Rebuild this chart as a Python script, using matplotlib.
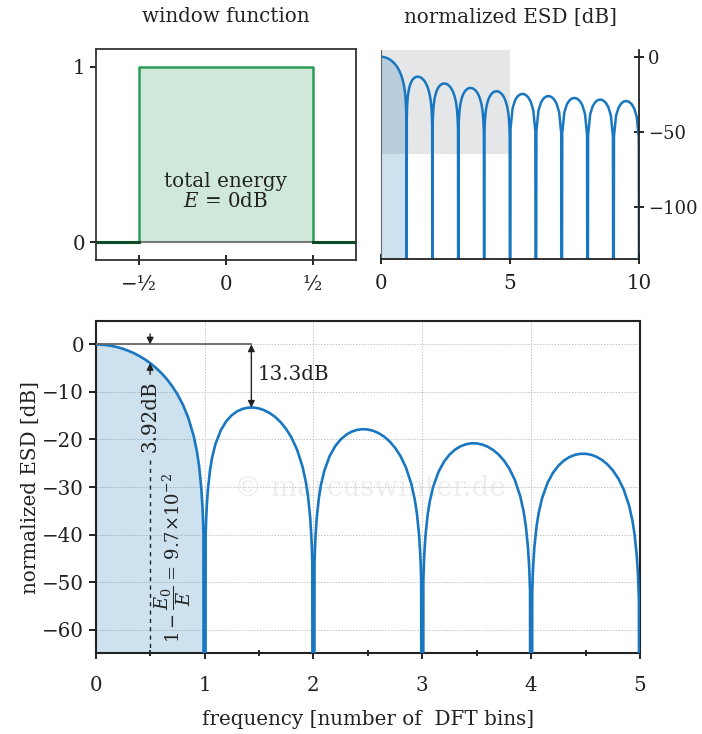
import numpy as np
import matplotlib
matplotlib.use("Agg")
import matplotlib.pyplot as plt
from matplotlib.ticker import MultipleLocator, FixedLocator

plt.rcParams['font.family'] = ['DejaVu Serif']
plt.rcParams['mathtext.fontset'] = 'dejavuserif'
plt.rcParams['axes.unicode_minus'] = True

# rectangular window, time axis in units of the window length
window_t = [-0.75, -0.5, -0.5, 0.5, 0.5, 0.75]
window_w = [0, 0, 1, 1, 0, 0]

# normalized energy spectral density [dB], 0 ... 5 bins
# (nulls are stored as -300 so the line runs off the bottom of the axes)
esd_freq_near = [
    0.00, 0.05, 0.10, 0.15, 0.20, 0.25, 0.30, 0.35, 0.40, 0.45, 0.50, 0.55, 0.60, 0.65,
    0.70, 0.75, 0.80, 0.85, 0.90, 0.93, 0.95, 0.97, 0.98, 0.985, 0.99, 1.00,
    1.01, 1.015, 1.02, 1.03, 1.05, 1.07, 1.10, 1.15, 1.20, 1.25, 1.30, 1.35, 1.40, 1.45,
    1.50, 1.55, 1.60, 1.65, 1.70, 1.75, 1.80, 1.85, 1.90, 1.93, 1.95, 1.97, 1.98, 1.985,
    1.99, 2.00,
    2.01, 2.015, 2.02, 2.03, 2.05, 2.07, 2.10, 2.15, 2.20, 2.25, 2.30, 2.35, 2.40, 2.45,
    2.50, 2.55, 2.60, 2.65, 2.70, 2.75, 2.80, 2.85, 2.90, 2.93, 2.95, 2.97, 2.98, 2.985,
    2.99, 3.00,
    3.01, 3.015, 3.02, 3.03, 3.05, 3.07, 3.10, 3.15, 3.20, 3.25, 3.30, 3.35, 3.40, 3.45,
    3.50, 3.55, 3.60, 3.65, 3.70, 3.75, 3.80, 3.85, 3.90, 3.93, 3.95, 3.97, 3.98, 3.985,
    3.99, 4.00,
    4.01, 4.015, 4.02, 4.03, 4.05, 4.07, 4.10, 4.15, 4.20, 4.25, 4.30, 4.35, 4.40, 4.45,
    4.50, 4.55, 4.60, 4.65, 4.70, 4.75, 4.80, 4.85, 4.90, 4.93, 4.95, 4.97, 4.98, 4.985,
    4.99, 5.00,
]
esd_db_near = [
    0.00, -0.04, -0.14, -0.32, -0.58, -0.91, -1.33, -1.83, -2.42, -3.12, -3.92, -4.86, -5.94, -7.20,
    -8.69, -10.45, -12.62, -15.39, -19.23, -22.54, -25.61, -30.21, -33.81, -36.35, -39.91, -300,
    -40.09, -36.61, -34.16, -30.73, -26.48, -23.76, -20.97, -18.02, -16.14, -14.89, -14.06, -13.55, -13.30, -13.28,
    -13.46, -13.86, -14.46, -15.29, -16.39, -17.81, -19.66, -22.15, -25.72, -28.88, -31.86, -36.36, -39.92, -42.44,
    -45.98, -300,
    -46.07, -42.57, -40.09, -36.62, -32.29, -29.49, -26.59, -23.45, -21.41, -20.00, -19.02, -18.37, -17.98, -17.83,
    -17.90, -18.18, -18.68, -19.41, -20.41, -21.74, -23.50, -25.90, -29.39, -32.51, -35.45, -39.93, -43.47, -45.98,
    -49.51, -300,
    -49.57, -46.07, -43.58, -40.10, -35.74, -32.91, -29.97, -26.77, -24.66, -23.19, -22.15, -21.45, -21.01, -20.81,
    -20.82, -21.06, -21.51, -22.19, -23.15, -24.43, -26.15, -28.51, -31.96, -35.06, -37.99, -42.45, -45.98, -48.49,
    -52.02, -300,
    -52.06, -48.56, -46.07, -42.58, -38.21, -35.36, -32.40, -29.16, -27.02, -25.52, -24.45, -23.71, -23.25, -23.02,
    -23.01, -23.21, -23.63, -24.29, -25.23, -26.49, -28.18, -30.52, -33.95, -37.03, -39.95, -44.40, -47.93, -50.44,
    -53.96, -300,
]

# 5 ... 10 bins for the overview plot
esd_freq_far = [
    5.02, 5.10, 5.20, 5.30, 5.40, 5.50, 5.60, 5.70, 5.80, 5.90, 5.98, 6.00,
    6.02, 6.10, 6.20, 6.30, 6.40, 6.50, 6.60, 6.70, 6.80, 6.90, 6.98, 7.00,
    7.02, 7.10, 7.20, 7.30, 7.40, 7.50, 7.60, 7.70, 7.80, 7.90, 7.98, 8.00,
    8.02, 8.10, 8.20, 8.30, 8.40, 8.50, 8.60, 8.70, 8.80, 8.90, 8.98, 9.00,
    9.02, 9.10, 9.20, 9.30, 9.40, 9.50, 9.60, 9.70, 9.80, 9.90, 9.98, 10.00,
]
esd_db_far = [
    -48.00, -34.29, -28.88, -26.27, -25.03, -24.75, -25.34, -26.90, -29.83, -35.56, -49.52, -300,
    -49.58, -35.85, -30.41, -27.77, -26.50, -26.20, -26.77, -28.31, -31.21, -36.92, -50.86, -300,
    -50.91, -37.17, -31.71, -29.05, -27.76, -27.44, -28.00, -29.51, -32.40, -38.10, -52.02, -300,
    -52.07, -38.31, -32.83, -30.17, -28.87, -28.53, -29.07, -30.57, -33.45, -39.13, -53.05, -300,
    -53.09, -39.32, -33.83, -31.15, -29.84, -29.50, -30.02, -31.52, -34.38, -40.06, -53.97, -300,
]

mainlobe_half = 0.5       # -3.92 dB point
mainlobe_half_db = -3.92
sidelobe_f = 1.43         # first sidelobe peak
sidelobe_db = -13.3
energy_text = r'$1-\dfrac{E_0}{E}$ = 9.7×10$^{-2}$'

BLUE = '#1877c0'
FILL = (0.12, 0.47, 0.71, 0.22)
INK = '#222222'
FS = 14.3

fig = plt.figure(figsize=(7.02, 7.34), dpi=100)

# ---- window function ----
ax_win = fig.add_axes([0.1363, 0.6458, 0.3708, 0.287])
ax_win.fill_between(window_t[2:4], 0, window_w[2:4], color='#cfe8da', lw=0)
ax_win.plot([window_t[1], window_t[4]], [0, 0], color='#7a7a7a', lw=1.5)
ax_win.plot(window_t[1:5], window_w[1:5], color='#2a9d55', lw=1.8)
ax_win.plot(window_t[:2], window_w[:2], color='#0d4d25', lw=2.2)
ax_win.plot(window_t[4:], window_w[4:], color='#0d4d25', lw=2.2)
ax_win.set_xlim(-0.75, 0.75)
ax_win.set_ylim(-0.1, 1.1)
ax_win.set_xticks([-0.5, 0, 0.5])
ax_win.set_xticklabels(['−½', '0', '½'])
ax_win.set_yticks([0, 1])
ax_win.tick_params(axis='x', direction='inout', length=7, width=1.2, labelsize=FS, pad=7,
                   labelcolor=INK)
ax_win.tick_params(axis='y', direction='out', length=4, width=1.2, labelsize=FS, labelcolor=INK)
for s in ax_win.spines.values():
    s.set_color('#333333')
    s.set_linewidth(1.3)
ax_win.text(0, 0.29, 'total energy\n$E$ = 0dB', ha='center', va='center',
            fontsize=FS, color=INK, linespacing=1.05)

# ---- overview ESD 0 ... 10 bins ----
ax_top = fig.add_axes([0.5423, 0.6467, 0.3684, 0.2852])
f_all = esd_freq_near + esd_freq_far
db_all = esd_db_near + esd_db_far
ax_top.fill_between([0, 5], -65, 10, color='#e5e6e8', lw=0, zorder=0)
n_main = esd_freq_near.index(1.00) + 1
ax_top.fill_between(esd_freq_near[:n_main], esd_db_near[:n_main], -400,
                    color=FILL, lw=0, zorder=1)
ax_top.plot(f_all, db_all, color=BLUE, lw=1.8, zorder=2)
ax_top.set_xlim(0, 10)
ax_top.set_ylim(-135, 4.5)
ax_top.xaxis.set_major_locator(FixedLocator([0, 5, 10]))
ax_top.xaxis.set_minor_locator(MultipleLocator(1))
ax_top.yaxis.tick_right()
ax_top.set_yticks([0, -50, -100])
ax_top.tick_params(axis='x', which='major', direction='inout', length=7, width=1.2,
                   labelsize=FS, pad=7, labelcolor=INK)
ax_top.tick_params(axis='x', which='minor', direction='in', length=4, width=1.2)
ax_top.tick_params(axis='y', direction='inout', length=7, width=1.2, labelsize=13, pad=3,
                   labelcolor=INK)
ax_top.spines['top'].set_visible(False)
ax_top.spines['left'].set_color('#666666')
ax_top.spines['left'].set_linewidth(0.8)
for side in ('right', 'bottom'):
    ax_top.spines[side].set_color(INK)
    ax_top.spines[side].set_linewidth(1.3)

fig.text(226 / 702, 1 - 17 / 734, 'window function', ha='center', va='center',
         fontsize=FS, color=INK)
fig.text(510 / 702, 1 - 17 / 734, 'normalized ESD [dB]', ha='center', va='center',
         fontsize=FS, color=INK)

# ---- zoomed ESD 0 ... 5 bins ----
ax = fig.add_axes([0.1363, 0.1099, 0.7754, 0.4532])
ax.fill_between(esd_freq_near[:n_main], esd_db_near[:n_main], -400,
                color=FILL, lw=0, zorder=1)
ax.plot(esd_freq_near, esd_db_near, color=BLUE, lw=1.9, zorder=3)
ax.set_xlim(0, 5)
ax.set_ylim(-65, 5)
ax.xaxis.set_major_locator(MultipleLocator(1))
ax.xaxis.set_minor_locator(MultipleLocator(0.5))
ax.yaxis.set_major_locator(MultipleLocator(10))
ax.grid(True, which='major', color='#c4c4c4', linestyle=(0, (1.5, 1.5)), lw=0.7, zorder=0)
ax.set_axisbelow(True)
ax.tick_params(axis='x', which='major', direction='inout', length=8, width=1.2,
               labelsize=FS, pad=12, labelcolor=INK)
ax.tick_params(axis='x', which='minor', direction='inout', length=5, width=1.2)
ax.tick_params(axis='y', direction='out', length=5, width=1.2, labelsize=FS, labelcolor=INK)
for s in ax.spines.values():
    s.set_color(INK)
    s.set_linewidth(1.5)
ax.set_xlabel('frequency [number of  DFT bins]', fontsize=FS, color=INK, labelpad=11)
ax.set_ylabel('normalized ESD [dB]', fontsize=FS, color=INK, labelpad=1)

ax.text(2.52, -30.2, '© marcuswinter.de', ha='center', va='center', fontsize=20,
        color='#eeeeee', zorder=0.5)

# first sidelobe level
ax.plot([0, sidelobe_f], [0, 0], color='#666666', lw=1.3, zorder=4)
ax.annotate('', xy=(sidelobe_f, sidelobe_db), xytext=(sidelobe_f, 0),
            arrowprops=dict(arrowstyle='<|-|>', color=INK, lw=1.0,
                            mutation_scale=10, shrinkA=0, shrinkB=0), zorder=5)
ax.text(sidelobe_f + 0.06, sidelobe_db / 2 + 0.3, f'{-sidelobe_db:.1f}dB', ha='left',
        va='center', fontsize=FS, color=INK)

# half-bin loss
ax.annotate('', xy=(mainlobe_half, 0), xytext=(mainlobe_half, 2.2),
            arrowprops=dict(arrowstyle='-|>', color=INK, lw=1.0,
                            mutation_scale=10, shrinkA=0, shrinkB=0), zorder=5)
ax.annotate('', xy=(mainlobe_half, mainlobe_half_db), xytext=(mainlobe_half, -6.3),
            arrowprops=dict(arrowstyle='-|>', color=INK, lw=1.0,
                            mutation_scale=10, shrinkA=0, shrinkB=0), zorder=5)
ax.text(mainlobe_half, -15.1, f'{-mainlobe_half_db:.2f}dB', rotation=90, ha='center',
        va='center', fontsize=FS, color=INK)
ax.plot([mainlobe_half, mainlobe_half], [-24.4, -65], color=INK, lw=1.0,
        linestyle=(0, (3, 3)), zorder=4)
ax.text(0.71, -45.0, energy_text, rotation=90, ha='center', va='center',
        fontsize=13, color=INK)

fig.savefig('out.png', dpi=100)
